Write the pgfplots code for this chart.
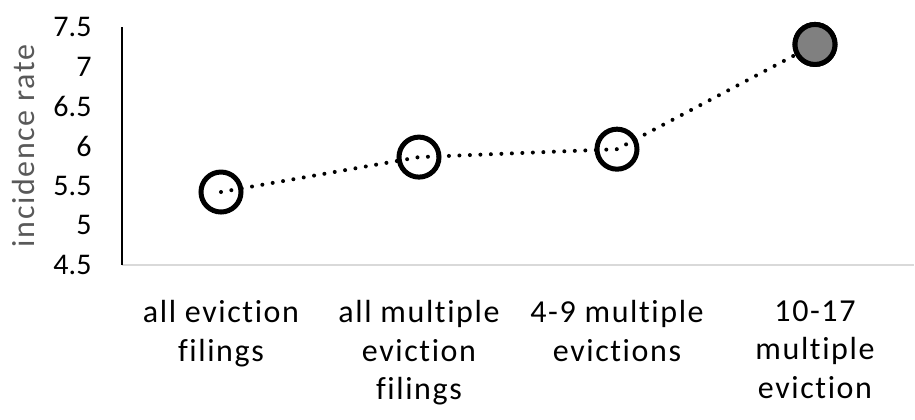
\documentclass[border=0pt]{standalone}
\usepackage{pgfplots}
\pgfplotsset{compat=1.18}
\usepackage{fontspec}
\setmainfont{Carlito}
\newfontfamily\lsfont[LetterSpace=5, Ligatures=NoCommon]{Carlito}
\definecolor{axgray}{HTML}{D9D9D9}
\definecolor{labgray}{HTML}{595959}
\definecolor{mkgray}{HTML}{808080}
\begin{document}
\begin{tikzpicture}
\useasboundingbox (-122bp,-155bp) rectangle (793bp,238bp+27bp);
\begin{axis}[
  scale only axis,
  width=792bp, height=238bp,
  xmin=-0.5, xmax=3.5,
  ymin=4.5, ymax=7.5,
  ytick={4.5,5,5.5,6,6.5,7,7.5},
  xtick={0,1,2,3},
  xticklabels={{all eviction\\filings},{all multiple\\eviction\\filings},{4-9 multiple\\evictions},{10-17\\multiple\\eviction}},
  axis x line=bottom, axis y line=left,
  axis line style={-},
  x axis line style={draw=axgray, line width=1.2bp},
  y axis line style={draw=black, line width=1.2bp},
  major tick length=0pt,
  /pgf/number format/assume math mode=true,
  tick label style={font=\fontsize{30bp}{38bp}\selectfont, text=black},
  yticklabel style={anchor=east, xshift=-27bp},
  xticklabel style={anchor=north, align=center, yshift=-32bp, font=\lsfont\fontsize{32bp}{38.5bp}\selectfont},
  ylabel={incidence rate},
  every axis y label/.style={at={([xshift=-98bp]rel axis cs:0,0.5)}, rotate=90, anchor=center},
  label style={font=\lsfont\fontsize{32bp}{36bp}\selectfont, text=labgray},
  clip=false,
]
\addplot[black, line width=4bp, line cap=round, dash pattern=on 0bp off 10.5bp,
  mark=o, mark size=20bp, mark options={solid, draw=black, line width=5bp}]
  coordinates {(0,5.42) (1,5.86) (2,5.96) (3,7.28)};
\addplot[only marks, mark=*, mark size=20bp, mark options={solid, draw=black, fill=mkgray, line width=5bp}]
  coordinates {(3,7.28)};
\end{axis}
\end{tikzpicture}
\end{document}
